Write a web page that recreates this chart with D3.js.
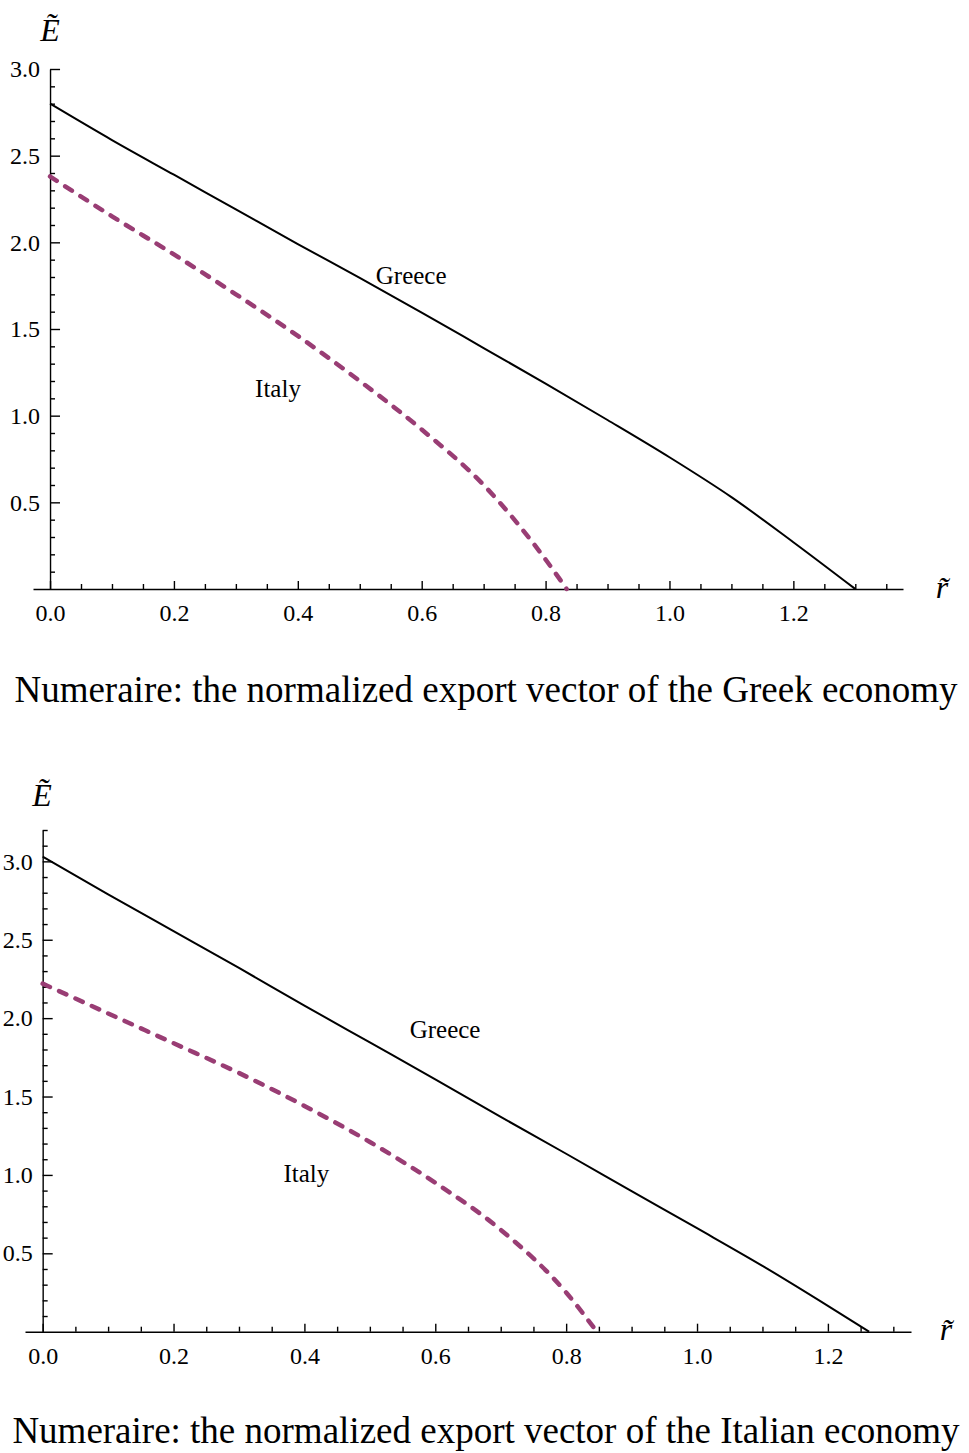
<!DOCTYPE html>
<html>
<head>
<meta charset="utf-8">
<script src="https://cdn.jsdelivr.net/npm/d3@7"></script>
<style>
  body { margin: 0; background: #fff; }
  svg { display: block; }
  .axis path, .axis line { stroke: #000; stroke-width: 1.4; }
</style>
</head>
<body>
<svg id="chart" width="969" height="1453"></svg>
<script>
const serif = 'Liberation Serif, Times New Roman, serif';

// values (r, E)
const majorR = [0, 0.2, 0.4, 0.6, 0.8, 1.0, 1.2];
const majorE = [0.5, 1.0, 1.5, 2.0, 2.5, 3.0];

// panel 1 : numeraire Greek export vector
const greeceR1 = [0, 0.1, 0.2, 0.3, 0.4, 0.5, 0.6, 0.7, 0.8, 0.9, 1.0, 1.1, 1.2, 1.3];
const greeceE1 = [2.80, 2.59, 2.39, 2.19, 1.99, 1.795, 1.595, 1.39, 1.185, 0.975, 0.76, 0.53, 0.27, 0];
const italyR1 = [0, 0.1, 0.2, 0.3, 0.4, 0.5, 0.6, 0.7, 0.8, 0.834];
const italyE1 = [2.38, 2.15, 1.93, 1.70, 1.46, 1.20, 0.92, 0.60, 0.17, 0];

// panel 2 : numeraire Italian export vector
const greeceR2 = [0, 0.1, 0.2, 0.3, 0.4, 0.5, 0.6, 0.7, 0.8, 0.9, 1.0, 1.1, 1.2, 1.263];
const greeceE2 = [3.03, 2.79, 2.555, 2.32, 2.08, 1.845, 1.61, 1.37, 1.135, 0.897, 0.66, 0.42, 0.165, 0];
const italyR2 = [0, 0.1, 0.2, 0.3, 0.4, 0.5, 0.6, 0.7, 0.8, 0.847];
const italyE2 = [2.22, 2.03, 1.84, 1.65, 1.44, 1.21, 0.95, 0.65, 0.25, 0];

const panels = [
  {
    greece: greeceR1.map((r, i) => [r, greeceE1[i]]),
    italy: italyR1.map((r, i) => [r, italyE1[i]]),
    xDomain: [-0.0275, 1.377], xRange: [33, 903],
    yDomain: [0, 3.0], yRange: [589, 69],
    greeceLabel: [0.583, 1.81], italyLabel: [0.368, 1.16],
    caption: 'Numeraire: the normalized export vector of the Greek economy',
    captionY: 689, eLabel: [50, 30], rLabel: [942, 592]
  },
  {
    greece: greeceR2.map((r, i) => [r, greeceE2[i]]),
    italy: italyR2.map((r, i) => [r, italyE2[i]]),
    xDomain: [-0.027, 1.327], xRange: [25, 911],
    yDomain: [0, 3.2], yRange: [1331.7, 830],
    greeceLabel: [0.615, 1.93], italyLabel: [0.403, 1.01],
    caption: 'Numeraire: the normalized export vector of the Italian economy',
    captionY: 1430, eLabel: [42, 795], rLabel: [946, 1334]
  }
];

const svg = d3.select('#chart');

function styleAxis(sel) {
  sel.attr('font-family', serif).attr('font-size', 24);
  sel.selectAll('text').attr('fill', '#000');
}

for (const p of panels) {
  const x = d3.scaleLinear().domain(p.xDomain).range(p.xRange);
  const y = d3.scaleLinear().domain(p.yDomain).range(p.yRange);
  const g = svg.append('g');

  const minorR = d3.range(0.05, p.xDomain[1], 0.05).filter(v => Math.abs(v / 0.2 - Math.round(v / 0.2)) > 1e-6);
  const minorE = d3.range(0.1, p.yDomain[1] + 1e-6, 0.1).filter(v => Math.abs(v / 0.5 - Math.round(v / 0.5)) > 1e-6);

  // x axis
  g.append('g')
    .attr('class', 'axis')
    .attr('transform', `translate(0,${y(0)})`)
    .call(d3.axisBottom(x).tickValues(majorR).tickFormat(d3.format('.1f'))
      .tickSize(-8).tickSizeOuter(0).tickPadding(15))
    .call(styleAxis);
  g.append('g')
    .attr('class', 'axis')
    .attr('transform', `translate(0,${y(0)})`)
    .call(d3.axisBottom(x).tickValues(minorR).tickFormat('').tickSize(-5).tickSizeOuter(0))
    .select('.domain').remove();

  // y axis
  g.append('g')
    .attr('class', 'axis')
    .attr('transform', `translate(${x(0)},0)`)
    .call(d3.axisLeft(y).tickValues(majorE).tickFormat(d3.format('.1f'))
      .tickSize(-10).tickSizeOuter(0).tickPadding(10))
    .call(styleAxis);
  g.append('g')
    .attr('class', 'axis')
    .attr('transform', `translate(${x(0)},0)`)
    .call(d3.axisLeft(y).tickValues(minorE).tickFormat('').tickSize(-5).tickSizeOuter(0))
    .select('.domain').remove();

  const line = d3.line()
    .x(d => x(d[0]))
    .y(d => y(d[1]))
    .curve(d3.curveMonotoneX);

  g.append('path')
    .datum(p.greece)
    .attr('d', line)
    .attr('fill', 'none')
    .attr('stroke', '#000')
    .attr('stroke-width', 2);

  g.append('path')
    .datum(p.italy)
    .attr('d', line)
    .attr('fill', 'none')
    .attr('stroke', '#993d74')
    .attr('stroke-width', 4.5)
    .attr('stroke-linecap', 'round')
    .attr('stroke-dasharray', '8,10');

  g.append('text')
    .attr('x', x(p.greeceLabel[0]))
    .attr('y', y(p.greeceLabel[1]))
    .attr('text-anchor', 'middle')
    .attr('dy', '0.35em')
    .attr('font-family', serif)
    .attr('font-size', 25)
    .text('Greece');
  g.append('text')
    .attr('x', x(p.italyLabel[0]))
    .attr('y', y(p.italyLabel[1]))
    .attr('text-anchor', 'middle')
    .attr('dy', '0.35em')
    .attr('font-family', serif)
    .attr('font-size', 25)
    .text('Italy');

  // axis names
  g.append('text')
    .attr('x', p.eLabel[0])
    .attr('y', p.eLabel[1])
    .attr('text-anchor', 'middle')
    .attr('dy', '0.35em')
    .attr('font-family', serif)
    .attr('font-size', 32)
    .attr('font-style', 'italic')
    .text('E\u0303');
  g.append('text')
    .attr('x', p.rLabel[0])
    .attr('y', p.rLabel[1])
    .attr('text-anchor', 'middle')
    .attr('dy', '0.2em')
    .attr('font-family', serif)
    .attr('font-size', 32)
    .attr('font-style', 'italic')
    .text('r\u0303');

  g.append('text')
    .attr('x', 486)
    .attr('y', p.captionY)
    .attr('text-anchor', 'middle')
    .attr('dy', '0.35em')
    .attr('font-family', serif)
    .attr('font-size', 37)
    .text(p.caption);
}
</script>
</body>
</html>
